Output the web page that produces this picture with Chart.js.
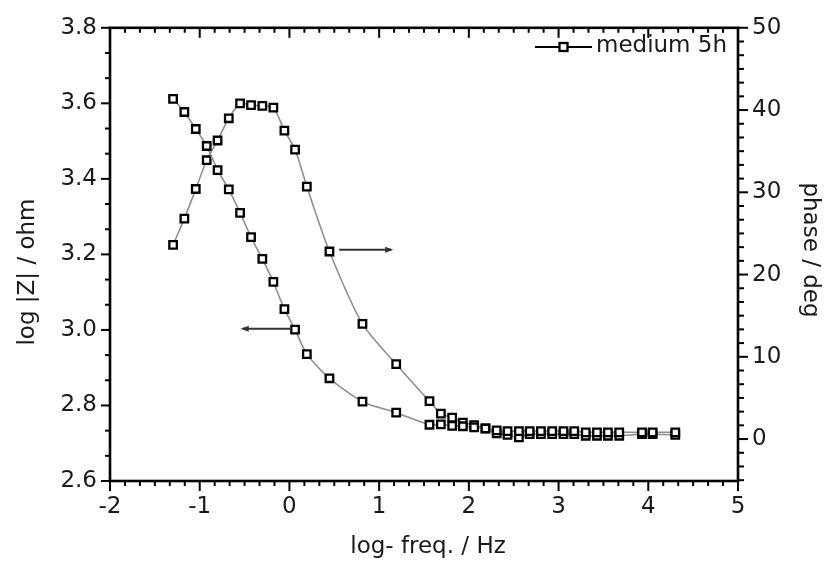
<!DOCTYPE html>
<html>
<head>
<meta charset="utf-8">
<script src="https://cdn.jsdelivr.net/npm/chart.js@4.4.1/dist/chart.umd.min.js"></script>
<style>
  html, body { margin: 0; padding: 0; background: #fff; }
  #wrap { width: 827px; height: 568px; position: relative; }
</style>
</head>
<body>
<div id="wrap"><canvas id="bode"></canvas></div>
<script>
// ---------------- data ----------------
var logFreq = [-1.297, -1.171, -1.044, -0.922, -0.801, -0.676, -0.550, -0.428, -0.302, -0.179,
               -0.056, 0.063, 0.194, 0.446, 0.814, 1.190, 1.561, 1.688, 1.814, 1.933,
               2.059, 2.185, 2.310, 2.431, 2.558, 2.678, 2.803, 2.929, 3.055, 3.175,
               3.303, 3.428, 3.550, 3.676, 3.930, 4.048, 4.301];
var logZ = [3.612, 3.577, 3.532, 3.487, 3.423, 3.372, 3.310, 3.246, 3.188, 3.127,
            3.055, 3.001, 2.936, 2.872, 2.810, 2.781, 2.749, 2.750, 2.746, 2.745,
            2.742, 2.739, 2.734, 2.732, 2.732, 2.732, 2.732, 2.732, 2.732, 2.732,
            2.729, 2.729, 2.729, 2.729, 2.729, 2.729, 2.729];
var phase = [23.6, 26.8, 30.4, 33.9, 36.3, 39.0, 40.8, 40.6, 40.5, 40.3,
             37.5, 35.2, 30.7, 22.8, 14.0, 9.1, 4.6, 3.1, 2.6, 2.0,
             1.7, 1.3, 0.7, 0.5, 0.2, 0.6, 0.6, 0.6, 0.6, 0.6,
             0.4, 0.4, 0.4, 0.4, 0.6, 0.6, 0.5];
var xTicks = [-2, -1, 0, 1, 2, 3, 4, 5];
var zTicks = [2.6, 2.8, 3.0, 3.2, 3.4, 3.6, 3.8];
var phaseTicks = [0, 10, 20, 30, 40, 50];
var legendLabel = 'medium 5h';

var FONT_FAMILY = '"DejaVu Sans", sans-serif';
var TEXT = '#1a1a1a';

function pts(ys) {
    return logFreq.map(function(f, i) { return { x: f, y: ys[i] }; });
}

function seriesStyle() {
    return {
        showLine: true,
        borderColor: '#8f8f8f',
        borderWidth: 1.6,
        tension: 0.25,
        pointStyle: 'rect',
        pointRadius: 5.3,
        pointBorderWidth: 2.3,
        pointBorderColor: '#000',
        pointBackgroundColor: '#fff'
    };
}

// frame, minor ticks, arrows, legend and axis titles
var decorations = {
    id: 'decorations',
    afterDatasetsDraw: function(chart) {
        var ctx = chart.ctx, a = chart.chartArea;
        var sx = chart.scales.x, sy = chart.scales.y, sp = chart.scales.y1;
        ctx.save();
        ctx.strokeStyle = '#000';
        ctx.lineWidth = 2.6;
        ctx.strokeRect(a.left, a.top, a.right - a.left, a.bottom - a.top);

        ctx.lineWidth = 2;
        function seg(x1, y1, x2, y2) {
            ctx.beginPath(); ctx.moveTo(x1, y1); ctx.lineTo(x2, y2); ctx.stroke();
        }
        var v, k, p, len;
        // bottom (outward) and top (inward), 5 minor ticks
        for (v = -2; v <= 5; v++) {
            for (k = 0; k < 6; k++) {
                if (v + k / 6 > 5) break;
                p = sx.getPixelForValue(v + k / 6);
                len = k ? 5 : 10;
                seg(p, a.bottom, p, a.bottom + len);
                seg(p, a.top, p, a.top + len);
            }
        }
        // left, 2 minor ticks
        for (v = 0; v <= 6; v++) {
            for (k = 0; k < 3; k++) {
                var zv = 2.6 + v * 0.2 + k * 0.2 / 3;
                if (zv > 3.8001) break;
                p = sy.getPixelForValue(zv);
                len = k ? 5 : 9;
                seg(a.left - len, p, a.left, p);
            }
        }
        // right, 5 minor ticks
        for (v = -10; v <= 50; v += 10) {
            for (k = 0; k < 6; k++) {
                var pv = v + k * 10 / 6;
                if (pv < sp.min || pv > 50.001) continue;
                p = sp.getPixelForValue(pv);
                len = k ? 6 : 10;
                seg(a.right, p, a.right + len, p);
            }
        }

        // arrows pointing to the axis each curve belongs to
        function arrow(x1, x2, yv) {
            var px1 = sx.getPixelForValue(x1), px2 = sx.getPixelForValue(x2);
            var py = sy.getPixelForValue(yv);
            var dir = px2 > px1 ? 1 : -1;
            ctx.strokeStyle = '#333';
            ctx.lineWidth = 2;
            seg(px1, py, px2, py);
            ctx.fillStyle = '#333';
            ctx.beginPath();
            ctx.moveTo(px2 + dir * 2, py);
            ctx.lineTo(px2 - dir * 6, py - 3);
            ctx.lineTo(px2 - dir * 6, py + 3);
            ctx.closePath();
            ctx.fill();
        }
        arrow(0.554, 1.134, 3.212);
        arrow(0.007, -0.520, 3.003);

        // legend
        ctx.strokeStyle = '#000';
        ctx.lineWidth = 2;
        seg(535, 47, 592, 47);
        ctx.fillStyle = '#fff';
        ctx.lineWidth = 2.3;
        ctx.fillRect(559.5, 43, 8, 8);
        ctx.strokeRect(559.5, 43, 8, 8);
        ctx.fillStyle = TEXT;
        ctx.font = '23px ' + FONT_FAMILY;
        ctx.textAlign = 'left';
        ctx.textBaseline = 'middle';
        ctx.fillText(legendLabel, 596, 46);

        // axis titles
        ctx.textAlign = 'center';
        ctx.textBaseline = 'alphabetic';
        ctx.fillText('log- freq. / Hz', 428, 553);

        ctx.save();
        ctx.translate(34, 272);
        ctx.rotate(-Math.PI / 2);
        ctx.fillText('log |Z| / ohm', 0, 0);
        ctx.restore();

        ctx.save();
        ctx.translate(804, 250);
        ctx.rotate(Math.PI / 2);
        ctx.fillText('phase / deg', 0, 0);
        ctx.restore();

        ctx.restore();
    }
};

var tickFont = { family: FONT_FAMILY, size: 23 };

new Chart(document.getElementById('bode'), {
    type: 'scatter',
    data: {
        datasets: [
            Object.assign({ label: legendLabel, data: pts(logZ), yAxisID: 'y' }, seriesStyle()),
            Object.assign({ label: legendLabel, data: pts(phase), yAxisID: 'y1' }, seriesStyle())
        ]
    },
    options: {
        responsive: true,
        maintainAspectRatio: false,
        animation: false,
        layout: { padding: { top: 16, left: 0, right: 0, bottom: 0 } },
        plugins: { legend: { display: false }, tooltip: { enabled: false } },
        scales: {
            x: {
                type: 'linear', position: 'bottom', min: -2, max: 5,
                grid: { display: false, drawTicks: false },
                border: { display: false },
                afterBuildTicks: function(s) { s.ticks = xTicks.map(function(t) { return { value: t }; }); },
                afterFit: function(s) { s.height = 87; },
                ticks: { font: tickFont, color: TEXT, padding: 12, maxRotation: 0,
                         callback: function(v) { return String(v); } }
            },
            y: {
                type: 'linear', position: 'left', min: 2.6, max: 3.8,
                grid: { display: false, drawTicks: false },
                border: { display: false },
                afterBuildTicks: function(s) { s.ticks = zTicks.map(function(t) { return { value: t }; }); },
                afterFit: function(s) { s.width = 110; },
                ticks: { font: tickFont, color: TEXT, padding: 13,
                         callback: function(v) { return v.toFixed(1); } }
            },
            y1: {
                type: 'linear', position: 'right', min: -5.1, max: 50,
                grid: { display: false, drawTicks: false },
                border: { display: false },
                afterBuildTicks: function(s) { s.ticks = phaseTicks.map(function(t) { return { value: t }; }); },
                afterFit: function(s) { s.width = 89; },
                ticks: { font: tickFont, color: TEXT, padding: 14,
                         callback: function(v) { return String(v); } }
            }
        }
    },
    plugins: [decorations]
});
</script>
</body>
</html>
